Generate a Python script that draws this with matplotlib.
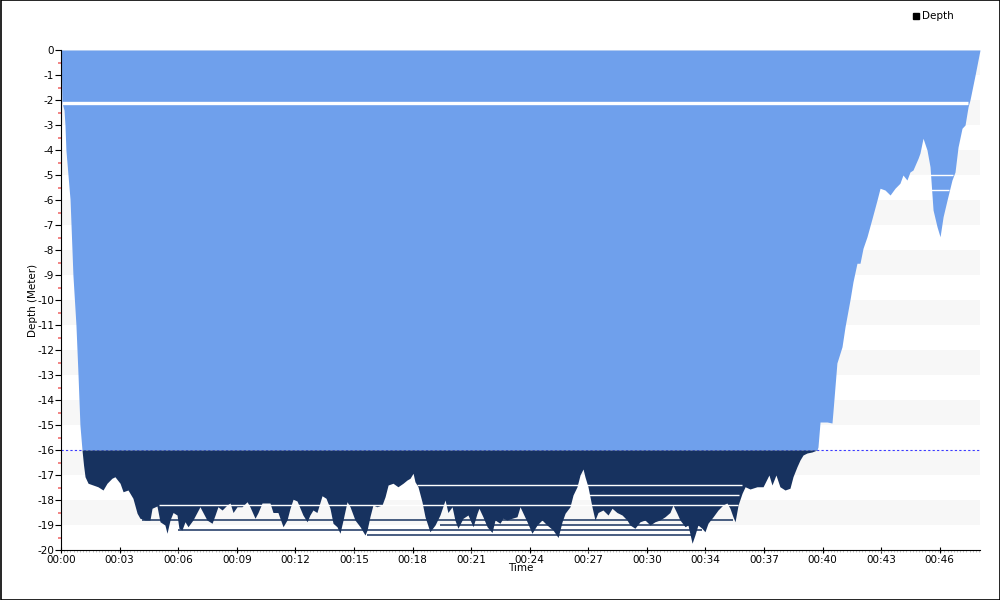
import numpy as np
import matplotlib
matplotlib.use("Agg")
import matplotlib.pyplot as plt
from matplotlib.lines import Line2D
from matplotlib.patches import Rectangle

# ---------------- data ----------------
time_min = [
    0.00, 0.05, 0.16, 0.21, 0.26, 0.37, 0.48, 0.53, 0.63, 0.79, 0.90, 0.95, 1.00, 1.11, 1.19, 1.27,
    1.43, 1.69, 1.95, 2.22, 2.43, 2.69, 2.85, 3.12, 3.28, 3.54, 3.80, 4.02, 4.17, 4.44, 4.70, 4.81,
    5.07, 5.23, 5.49, 5.60, 5.76, 5.92, 6.13, 6.23, 6.39, 6.55, 6.71, 6.97, 7.18, 7.34, 7.50, 7.71,
    7.98, 8.14, 8.29, 8.51, 8.77, 8.93, 9.09, 9.30, 9.56, 9.83, 9.98, 10.25, 10.41, 10.62, 10.88,
    11.04, 11.20, 11.46, 11.73, 11.94, 12.10, 12.26, 12.47, 12.63, 12.78, 13.00, 13.15, 13.31,
    13.52, 13.79, 14.00, 14.21, 14.37, 14.58, 14.74, 14.90, 15.11, 15.27, 15.53, 15.80, 16.06,
    16.17, 16.32, 16.48, 16.69, 16.96, 17.12, 17.28, 17.54, 17.80, 18.07, 18.28, 18.44, 18.60,
    18.70, 18.86, 19.07, 19.23, 19.49, 19.76, 20.02, 20.29, 20.44, 20.66, 20.81, 20.97, 21.24,
    21.50, 21.77, 21.98, 22.08, 22.29, 22.51, 22.77, 22.93, 23.19, 23.35, 23.56, 23.83, 24.09,
    24.25, 24.41, 24.62, 24.88, 25.15, 25.41, 25.67, 25.99, 26.26, 26.47, 26.63, 26.89, 27.05,
    27.26, 27.42, 27.58, 27.68, 27.84, 28.05, 28.21, 28.37, 28.63, 28.90, 29.11, 29.37, 29.64,
    29.90, 30.06, 30.32, 30.59, 30.85, 31.12, 31.38, 31.64, 31.91, 32.17, 32.33, 32.54, 32.70,
    32.97, 33.12, 33.34, 33.49, 33.65, 33.86, 34.02, 34.18, 34.45, 34.71, 34.97, 35.18, 35.34,
    35.50, 35.61, 35.77, 35.98, 36.14, 36.40, 36.77, 37.09, 37.40, 37.56, 37.77, 37.98, 38.25,
    38.51, 38.67, 38.88, 39.04, 39.20, 39.41, 39.67, 39.94, 39.99, 40.10, 40.47, 40.73, 40.78,
    40.99, 41.26, 41.42, 41.68, 41.84, 42.05, 42.21, 42.37, 42.58, 42.85, 43.11, 43.27, 43.53,
    43.80, 44.06, 44.32, 44.48, 44.69, 44.85, 45.01, 45.28, 45.38, 45.54, 45.75, 45.91, 46.07,
    46.28, 46.44, 46.60, 46.81, 47.07, 47.23, 47.39, 47.60, 47.76, 47.92, 48.02, 48.29, 48.55,
]
depth_m = [
    0.0, -2.1, -2.4, -3.0, -4.0, -5.0, -6.0, -7.0, -9.0, -11.0, -13.0, -14.0, -15.0, -16.0, -16.6, -17.07,
    -17.33, -17.4, -17.47, -17.6, -17.33, -17.13, -17.07, -17.33, -17.67, -17.6, -17.93, -18.53, -18.73, -18.8, -18.8, -18.33,
    -18.24, -18.87, -19.0, -19.33, -18.8, -18.5, -18.6, -19.13, -19.2, -18.87, -19.07, -18.8, -18.5, -18.27, -18.5, -18.8,
    -18.93, -18.6, -18.27, -18.4, -18.2, -18.12, -18.5, -18.27, -18.27, -18.07, -18.27, -18.73, -18.5, -18.12, -18.12,
    -18.12, -18.5, -18.5, -19.07, -18.8, -18.33, -17.97, -18.04, -18.33, -18.6, -18.87, -18.6, -18.4,
    -18.5, -17.83, -17.93, -18.33, -18.93, -19.07, -19.33, -18.8, -18.07, -18.27, -18.8, -19.07, -19.4,
    -19.2, -18.67, -18.2, -18.27, -18.2, -17.87, -17.4, -17.33, -17.47, -17.33, -17.2, -17.13, -16.93,
    -17.27, -17.47, -18.07, -18.67, -19.27, -19.0, -18.6, -18.0, -18.5, -18.27, -18.8, -19.13, -18.73,
    -18.6, -19.07, -18.53, -18.33, -18.67, -19.07, -19.3, -18.8, -18.93, -18.73, -18.8, -18.73, -18.67,
    -18.27, -18.53, -18.87, -19.33, -19.0, -18.8, -19.0, -19.2, -19.5, -18.87, -18.53, -18.27, -17.8,
    -17.47, -17.0, -16.76, -17.07, -17.47, -18.27, -18.8, -18.5, -18.4, -18.6, -18.33, -18.5, -18.6,
    -18.8, -19.0, -19.13, -18.87, -18.8, -19.0, -18.87, -18.8, -18.67, -18.5, -18.2, -18.53, -18.8,
    -19.07, -19.0, -19.73, -19.4, -19.0, -19.13, -19.27, -18.93, -18.67, -18.4, -18.2, -18.12, -18.33,
    -18.67, -18.87, -18.2, -17.73, -17.47, -17.56, -17.47, -17.47, -17.0, -17.4, -17.0, -17.47, -17.6,
    -17.53, -17.07, -16.67, -16.4, -16.2, -16.12, -16.08, -16.0, -15.88, -14.88, -14.88, -14.92, -14.48,
    -12.52, -11.87, -11.07, -10.0, -9.27, -8.53, -8.53, -7.93, -7.47, -6.73, -6.0, -5.53, -5.6,
    -5.8, -5.53, -5.33, -5.0, -5.2, -4.88, -4.8, -4.33, -4.12, -3.53, -4.0, -4.67, -6.4,
    -7.07, -7.47, -6.67, -6.0, -5.2, -4.88, -3.88, -3.13, -3.0, -2.27, -2.0, -1.0, 0.0,
]

x_tick_labels = ["00:00", "00:03", "00:06", "00:09", "00:12", "00:15", "00:18", "00:21",
                 "00:24", "00:27", "00:30", "00:34", "00:37", "00:40", "00:43", "00:46"]
x_tick_step_min = 3.095
y_tick_values = list(range(0, -21, -1))
threshold_depth = -16.0

# rendering seams of the original area fill: (depth, start min, end min)
white_seams = [(-5.0, 45.01, 47.12), (-5.6, 44.32, 46.92),
               (-17.4, 18.8, 35.98), (-17.8, 27.26, 35.82), (-18.2, 5.18, 35.77)]
navy_seams = [(-18.8, 4.28, 35.50), (-19.0, 20.0, 34.02), (-19.2, 6.18, 33.86), (-19.4, 16.17, 33.34)]
top_seam = (-2.12, 0.05, 47.92)

# ---------------- plot ----------------
t = np.array(time_min)
d = np.array(depth_m)

fig = plt.figure(figsize=(10, 6), dpi=100)
ax = fig.add_axes([0.061, 50 / 600, 0.919, 500 / 600])

xmax = t[-1]
ax.set_xlim(0, xmax)
ax.set_ylim(-20, 0)

# alternating bands
for k in range(10):
    ax.axhspan(-(2 * k + 1), -2 * k, color="#f7f7f7", zorder=0, lw=0)

ax.axhline(threshold_depth, color="#3a3aff", lw=0.8, ls=(0, (2, 2)), zorder=1)

light = "#6fa0ec"
navy = "#17325f"
ax.fill_between(t, 0, np.maximum(d, threshold_depth), color=light, lw=0, zorder=2)
ax.fill_between(t, threshold_depth, np.minimum(d, threshold_depth), color=navy, lw=0, zorder=2)

ax.hlines(top_seam[0], top_seam[1], top_seam[2], color="white", lw=2.4, zorder=3)
for y, a, b in white_seams:
    ax.hlines(y, a, b, color="white", lw=1.0, zorder=3)
for y, a, b in navy_seams:
    ax.hlines(y, a, b, color=navy, lw=1.1, zorder=3)

# axes styling
for s in ["top", "right"]:
    ax.spines[s].set_visible(False)
ax.spines["left"].set_color("black")
ax.spines["bottom"].set_color("black")
ax.spines["left"].set_zorder(5)
ax.spines["bottom"].set_zorder(5)

ax.set_yticks(y_tick_values)
ax.set_yticklabels([str(v) for v in y_tick_values])
ax.set_yticks(np.arange(-19.5, 0, 1.0), minor=True)
ax.tick_params(axis="y", which="major", length=4, width=0.8, color="black", labelsize=7.5, pad=1)
ax.tick_params(axis="y", which="minor", length=2.5, width=1.2, color="#f07070")

xt = [k * x_tick_step_min for k in range(len(x_tick_labels))]
ax.set_xticks(xt)
ax.set_xticklabels(x_tick_labels)
ax.set_xticks(np.arange(0, xmax, 1 / 6), minor=True)
ax.tick_params(axis="x", which="major", direction="inout", length=5, width=0.8, labelsize=7.5, pad=1)
ax.tick_params(axis="x", which="minor", direction="out", length=1.5, width=0.5, color="#aaaaaa")

ax.set_xlabel("Time", fontsize=7.5, labelpad=-1)
ax.set_ylabel("Depth (Meter)", fontsize=7.5, labelpad=-1)

# legend
fig.legend(handles=[Line2D([], [], marker="s", color="black", linestyle="none", markersize=4.5)],
           labels=["Depth"], loc="upper left", bbox_to_anchor=(0.903, 0.993), frameon=False,
           fontsize=7.5, handletextpad=0.1, handlelength=1.0, borderaxespad=0.3)

# outer border
fig.patches.append(Rectangle((0.0005, 0.0008), 0.999, 0.9985, transform=fig.transFigure,
                             fill=False, edgecolor="black", lw=1.2))

fig.savefig("out.png", dpi=100)
